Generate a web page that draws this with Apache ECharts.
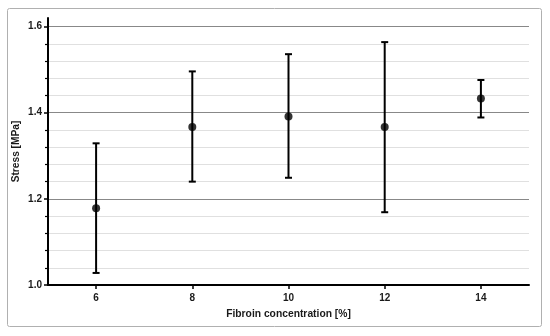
<!DOCTYPE html>
<html><head><meta charset="utf-8">
<script src="https://cdn.jsdelivr.net/npm/echarts@6/dist/echarts.min.js"></script>
<style>html,body{margin:0;padding:0;background:#fff}#c{width:550px;height:336px}</style>
</head><body><div id="c"></div>
<script>
const concentrations = [6, 8, 10, 12, 14];
const meanStress = [1.178, 1.367, 1.391, 1.367, 1.433];
const upperStress = [1.329, 1.496, 1.536, 1.564, 1.476];
const lowerStress = [1.028, 1.240, 1.249, 1.169, 1.389];
const xTickLabels = [6, 8, 10, 12, 14];
const yTickLabels = [1.0, 1.2, 1.4, 1.6];

const chart = echarts.init(document.getElementById('c'));
const FONT = 'Liberation Sans, Arial, sans-serif';
const errData = concentrations.map((x, i) => [x, lowerStress[i], upperStress[i]]);
const ptData = concentrations.map((x, i) => [x, meanStress[i]]);

chart.setOption({
  animation: false,
  graphic: [{
    type: 'rect', shape: {x: 7.5, y: 8.5, width: 534, height: 318, r: 2},
    style: {fill: 'none', stroke: '#b0b0b0', lineWidth: 1}, z: -10
  }],
  grid: {left: 48, right: 21, top: 18, bottom: 51, containLabel: false, outerBoundsMode: 'none'},
  xAxis: {
    type: 'value', min: 5, max: 15,
    name: 'Fibroin concentration [%]', nameLocation: 'middle', nameGap: 24, nameMoveOverlap: false,
    nameTextStyle: {fontFamily: FONT, fontWeight: 'bold', fontSize: 10.3, color: '#1a1a1a'},
    axisLine: {show: true, onZero: false, lineStyle: {color: '#000', width: 2}},
    axisTick: {show: true, customValues: xTickLabels, length: 4, lineStyle: {color: '#000', width: 1.5}},
    axisLabel: {customValues: xTickLabels, margin: 8, fontFamily: FONT, fontWeight: 'bold', fontSize: 10, color: '#1a1a1a'},
    splitLine: {show: false}
  },
  yAxis: {
    type: 'value', min: 1.0, max: 1.62, interval: 0.2,
    name: 'Stress [MPa]', nameLocation: 'middle', nameGap: 27, nameMoveOverlap: false,
    nameTextStyle: {fontFamily: FONT, fontWeight: 'bold', fontSize: 10.2, color: '#1a1a1a'},
    axisLine: {show: true, lineStyle: {color: '#000', width: 2}},
    axisTick: {show: true, customValues: yTickLabels, length: 4, lineStyle: {color: '#000', width: 1.5}},
    minorTick: {show: true, splitNumber: 5, length: 3, lineStyle: {color: '#000', width: 1.2}},
    axisLabel: {customValues: yTickLabels, margin: 6, fontFamily: FONT, fontWeight: 'bold', fontSize: 10, color: '#1a1a1a',
      formatter: v => v.toFixed(1)},
    splitLine: {show: true, lineStyle: {color: ['#888', '#888', '#888', '#888', 'rgba(0,0,0,0)'], width: 1}},
    minorSplitLine: {show: true, lineStyle: {color: '#e0e0e0', width: 1}}
  },
  series: [{
    type: 'custom',
    data: errData,
    renderItem: function (params, api) {
      const x = api.value(0);
      const lo = api.coord([x, api.value(1)]);
      const hi = api.coord([x, api.value(2)]);
      const hw = 3.5;
      const st = {stroke: '#000', lineWidth: 2};
      return {type: 'group', children: [
        {type: 'line', shape: {x1: lo[0], y1: lo[1], x2: hi[0], y2: hi[1]}, style: st},
        {type: 'line', shape: {x1: lo[0] - hw, y1: lo[1], x2: lo[0] + hw, y2: lo[1]}, style: st},
        {type: 'line', shape: {x1: hi[0] - hw, y1: hi[1], x2: hi[0] + hw, y2: hi[1]}, style: st}
      ]};
    },
    z: 3
  }, {
    type: 'scatter', data: ptData, symbol: 'circle', symbolSize: 8,
    itemStyle: {color: '#000'}, z: 4
  }]
});
</script></body></html>
